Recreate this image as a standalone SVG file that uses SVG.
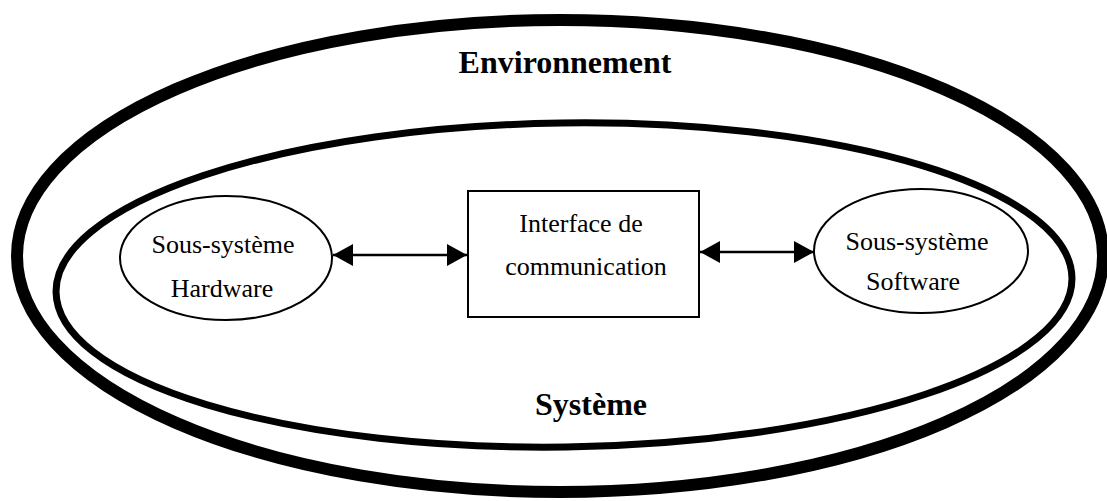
<svg xmlns="http://www.w3.org/2000/svg" width="1107" height="501" viewBox="0 0 1107 501">
<defs>
<style>
.bold{font-family:"Liberation Serif","Times New Roman",serif;font-weight:bold;font-size:32px;fill:#000;text-anchor:middle}
.lbl{font-family:"Liberation Serif","Times New Roman",serif;font-size:26px;fill:#000;text-anchor:middle}
.thin{fill:#fff;stroke:#000;stroke-width:2}
.conn{stroke:#000;stroke-width:2.5;fill:none}
</style>
<marker id="ah" viewBox="0 0 20 22" refX="20" refY="11" markerWidth="20" markerHeight="22" markerUnits="userSpaceOnUse" orient="auto-start-reverse">
<path d="M0,0 L20,11 L0,22 Z" fill="#000"/>
</marker>
</defs>
<rect width="1107" height="501" fill="#fff"/>
<g id="environnement">
<ellipse cx="560" cy="256" rx="543" ry="236" fill="none" stroke="#000" stroke-width="12"/>
<text class="bold" x="565" y="73">Environnement</text>
</g>
<g id="systeme">
<ellipse cx="564" cy="285" rx="508" ry="162" fill="none" stroke="#000" stroke-width="7" transform="rotate(-0.8 564 285)"/>
<text class="bold" x="591" y="415">Système</text>
</g>
<g id="hardware">
<ellipse class="thin" cx="226" cy="258" rx="106" ry="62"/>
<text class="lbl" x="223" y="253">Sous-système</text>
<text class="lbl" x="222" y="297">Hardware</text>
</g>
<g id="interface">
<rect class="thin" x="468" y="191" width="231" height="126"/>
<text class="lbl" x="581" y="232">Interface de</text>
<text class="lbl" x="586" y="275">communication</text>
</g>
<g id="software">
<ellipse class="thin" cx="921" cy="251" rx="107" ry="62"/>
<text class="lbl" x="917" y="250">Sous-système</text>
<text class="lbl" x="913" y="290">Software</text>
</g>
<g id="connectors">
<line class="conn" x1="333" y1="255" x2="467" y2="255" marker-start="url(#ah)" marker-end="url(#ah)"/>
<line class="conn" x1="700" y1="252" x2="814" y2="252" marker-start="url(#ah)" marker-end="url(#ah)"/>
</g>
</svg>
